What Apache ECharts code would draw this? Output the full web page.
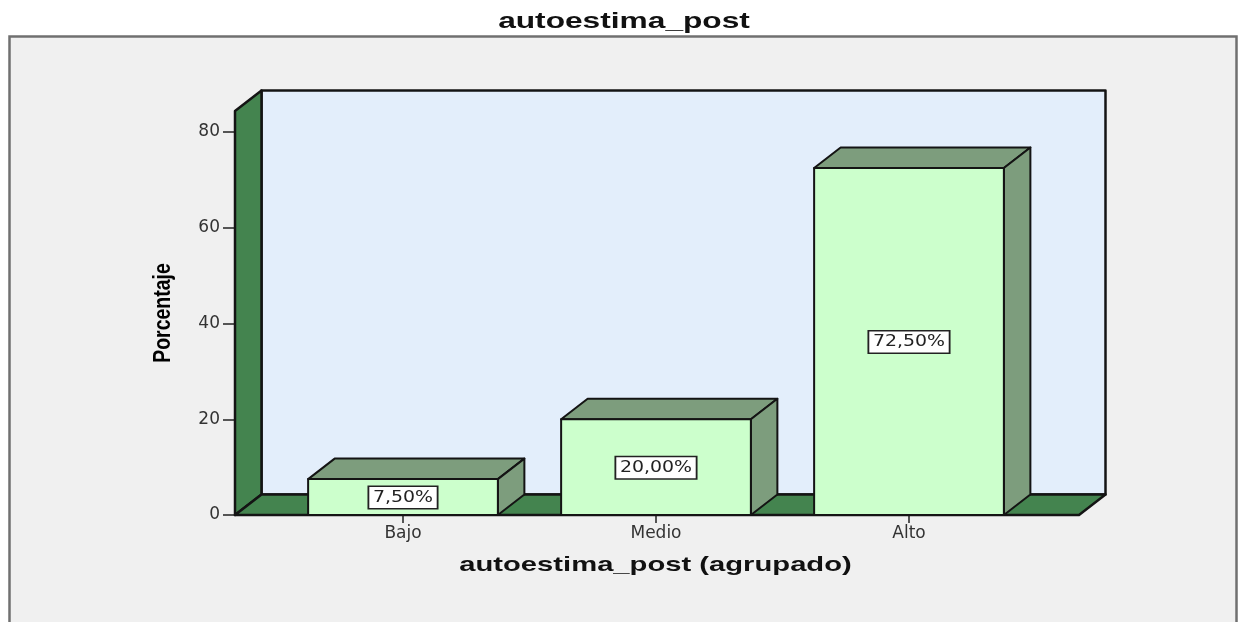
<!DOCTYPE html>
<html><head><meta charset="utf-8">
<style>html,body{margin:0;padding:0;background:#fff;overflow:hidden}#c{width:1241px;height:622px}</style>
<script src="https://cdn.jsdelivr.net/npm/echarts@6/dist/echarts.min.js"></script>
</head><body><div id="c"></div>
<script>
const categories = ['Bajo', 'Medio', 'Alto'];
const percentages = [7.5, 20, 72.5];
const valueLabels = ['7,50%', '20,00%', '72,50%'];
const yTicks = [0, 20, 40, 60, 80];
const chartTitle = 'autoestima_post';
const xTitle = 'autoestima_post (agrupado)';
const yTitle = 'Porcentaje';

const DX = 26.5, DY = -20.5, PAD_L = 41.5, PAD_R = 43.5;
const EDGE = '#141414';
const chart = echarts.init(document.getElementById('c'));

function poly(points, fill, lw) {
  return { type: 'polygon', shape: { points }, style: { fill, stroke: EDGE, lineWidth: lw || 2, lineJoin: 'round' } };
}
function renderWalls(params) {
  const c = params.coordSys;
  const L = c.x - PAD_L, R = c.x + c.width + PAD_R, T = c.y, B = c.y + c.height;
  return { type: 'group', children: [
    poly([[L + DX, T + DY], [R + DX, T + DY], [R + DX, B + DY], [L + DX, B + DY]], '#e3eefb', 2.5),
    poly([[L, B], [L, T], [L + DX, T + DY], [L + DX, B + DY]], '#44844f', 2.5),
    poly([[L, B], [L + DX, B + DY], [R + DX, B + DY], [R, B]], '#44844f', 2.5)
  ]};
}
function renderBar(params, api) {
  const i = api.value(0), v = api.value(1);
  const top = api.coord([i, v]), base = api.coord([i, 0]);
  const w = api.size([1, 0])[0] * 0.75;
  const x0 = top[0] - w / 2, x1 = top[0] + w / 2, y0 = top[1], y1 = base[1];
  return { type: 'group', children: [
    poly([[x0, y0], [x0 + DX, y0 + DY], [x1 + DX, y0 + DY], [x1, y0]], '#7d9d7d'),
    poly([[x1, y0], [x1 + DX, y0 + DY], [x1 + DX, y1 + DY], [x1, y1]], '#7d9d7d'),
    poly([[x0, y0], [x1, y0], [x1, y1], [x0, y1]], '#ccffcc'),
    { type: 'text', x: top[0], y: (y0 + y1) / 2 + 0.5, scaleX: 1.22, style: {
        text: valueLabels[params.dataIndex], align: 'center', verticalAlign: 'middle',
        font: '15.5px "DejaVu Sans"', fill: '#222', backgroundColor: '#fff',
        borderColor: '#222', borderWidth: 1.5, padding: [3, 3, 2, 3] } }
  ]};
}
chart.setOption({
  animation: false,
  backgroundColor: '#fff',
  graphic: [
    { type: 'rect', z: -10, shape: { x: 9.5, y: 36.5, width: 1227, height: 620 },
      style: { fill: '#f0f0f0', stroke: '#707070', lineWidth: 2.5 } },
    { type: 'text', z: 5, x: 624, y: 22, scaleX: 1.44, style: { text: chartTitle, align: 'center', verticalAlign: 'middle',
      font: 'bold 22px "Liberation Sans"', fill: '#111' } },
    { type: 'text', z: 5, x: 655.5, y: 565, scaleX: 1.39, style: { text: xTitle, align: 'center', verticalAlign: 'middle',
      font: 'bold 21px "Liberation Sans"', fill: '#111' } },
    { type: 'text', z: 5, x: 163.5, y: 313, rotation: Math.PI / 2, scaleY: 1.25, style: { text: yTitle, align: 'center', verticalAlign: 'middle',
      font: 'bold 19.5px "Liberation Sans"', fill: '#000' } }
  ],
  grid: { left: 276.5, width: 759, top: 111, height: 404 },
  xAxis: {
    type: 'category', data: categories,
    axisLine: { show: false },
    axisTick: { show: true, alignWithLabel: true, length: 8, lineStyle: { color: '#222', width: 1.5 } },
    axisLabel: { fontFamily: 'DejaVu Sans', fontSize: 17, color: '#333', margin: 10 }
  },
  yAxis: {
    type: 'value', min: 0, max: 84.4, offset: PAD_L,
    splitLine: { show: false },
    axisLine: { show: false },
    axisTick: { show: true, length: 12, customValues: yTicks, lineStyle: { color: '#222', width: 1.5 } },
    axisLabel: { customValues: yTicks, fontFamily: 'DejaVu Sans', fontSize: 17, color: '#333', margin: 15 }
  },
  series: [
    { type: 'custom', silent: true, z: 1, renderItem: renderWalls, data: [[0, 0]], encode: { x: 0, y: 1 } },
    { type: 'custom', silent: true, z: 2, renderItem: renderBar, encode: { x: 0, y: 1 },
      data: categories.map((c, i) => [i, percentages[i]]) }
  ]
});
</script></body></html>
